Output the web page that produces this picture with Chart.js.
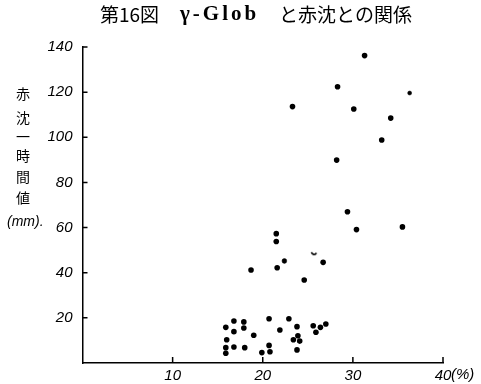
<!DOCTYPE html>
<html>
<head>
<meta charset="utf-8">
<script src="https://cdn.jsdelivr.net/npm/chart.js@4/dist/chart.umd.min.js"></script>
<style>
  html, body { margin: 0; padding: 0; background: #fff; }
  #wrap { width: 481px; height: 384px; }
</style>
</head>
<body>
<div id="wrap"><canvas id="c" width="481" height="384"></canvas></div>
<script>
// γ-グロブリン (%) と赤沈一時間値 (mm)
const gammaGlob = [
  23.3, 31.3, 28.3, 30.1, 34.2, 33.2, 28.2, 29.4, 30.4, 35.5,
  21.5, 21.5, 26.7, 18.7, 21.6, 24.6,
  15.9, 16.8, 17.9, 16.8, 17.9, 19.0, 16.0, 15.9, 15.9, 16.8,
  18.0, 19.9, 20.7, 21.9, 22.9, 23.8, 20.7, 20.8, 23.4, 23.9,
  24.1, 23.8, 25.6, 25.9, 26.4, 27.0
];
const esr1h = [
  113.6, 136.2, 122.4, 112.5, 108.5, 98.8, 89.9, 67.0, 59.1, 60.3,
  57.3, 53.8, 44.6, 41.2, 42.2, 36.8,
  15.8, 18.6, 18.2, 13.9, 15.5, 12.3, 10.3, 6.8, 4.3, 7.1,
  6.8, 4.6, 19.6, 14.6, 19.6, 16.1, 7.8, 5.0, 10.3, 12.1,
  9.7, 5.8, 16.5, 13.6, 15.8, 17.3
];
// smaller / partly printed marks
const smallGlob = [36.3];
const smallEsr  = [119.6];
const halfGlob = [22.4];
const halfEsr  = [45.2];
const arcGlob = [25.7];
const arcEsr  = [48.6];

const xTicks = [10, 20, 30, 40];
const yTicks = [20, 40, 60, 80, 100, 120, 140];
const yTitleChars = ['赤', '沈', '一', '時', '間', '値'];

const toPoints = (xs, ys) => xs.map((x, i) => ({ x, y: ys[i] }));

// small crescent used for the broken mark
const arcImg = document.createElement('canvas');
arcImg.width = 8; arcImg.height = 8;
(function () {
  const g = arcImg.getContext('2d');
  g.strokeStyle = '#000';
  g.lineWidth = 1.6;
  g.beginPath();
  g.arc(4, 2.5, 2.6, 0.15 * Math.PI, 0.95 * Math.PI);
  g.stroke();
})();

const TICK_FONT = 'italic 15px "Liberation Sans", "DejaVu Sans", sans-serif';

const decor = {
  id: 'decor',
  afterDraw(chart) {
    const { ctx, chartArea, scales } = chart;
    const xs = scales.x, ys = scales.y;
    ctx.save();
    ctx.strokeStyle = '#000';
    ctx.lineWidth = 1.5;
    // inward tick marks
    ctx.beginPath();
    yTicks.forEach(v => {
      const py = ys.getPixelForValue(v);
      ctx.moveTo(chartArea.left, py);
      ctx.lineTo(chartArea.left + 5, py);
    });
    xTicks.forEach(v => {
      const px = xs.getPixelForValue(v);
      ctx.moveTo(px, chartArea.bottom);
      ctx.lineTo(px, chartArea.bottom - 6);
    });
    ctx.stroke();

    // unit after the last x label
    ctx.fillStyle = '#000';
    ctx.font = TICK_FONT;
    ctx.textBaseline = 'top';
    ctx.textAlign = 'left';
    ctx.fillText('(%)', xs.getPixelForValue(40) + 8, chartArea.bottom + 4);

    // vertical y-axis title
    ctx.font = '14px "Noto Sans CJK JP", sans-serif';
    ctx.textAlign = 'center';
    ctx.textBaseline = 'middle';
    const cy = [94, 118, 137, 156, 177, 198];
    yTitleChars.forEach((ch, i) => ctx.fillText(ch, 23, cy[i]));
    ctx.font = 'italic 14px "Liberation Sans", sans-serif';
    ctx.textAlign = 'left';
    ctx.fillText('(mm).', 7, 222);

    // title
    ctx.textBaseline = 'middle';
    ctx.font = '19px "Noto Sans CJK JP", sans-serif';
    ctx.fillText('第16図', 100, 15);
    ctx.font = 'bold 21px "Liberation Serif", serif';
    if ('letterSpacing' in ctx) ctx.letterSpacing = '3px';
    ctx.fillText('γ-Glob', 180, 15);
    if ('letterSpacing' in ctx) ctx.letterSpacing = '0px';
    ctx.font = '19px "Noto Sans CJK JP", sans-serif';
    ctx.fillText('と赤沈との関係', 279, 15);
    ctx.restore();
  }
};

new Chart(document.getElementById('c'), {
  type: 'scatter',
  data: {
    datasets: [
      {
        data: toPoints(gammaGlob, esr1h),
        backgroundColor: '#000',
        borderWidth: 0,
        pointRadius: 2.8
      },
      {
        data: toPoints(smallGlob, smallEsr),
        backgroundColor: '#000',
        borderColor: '#000',
        borderWidth: 0.5,
        pointRadius: 2.0
      },
      {
        data: toPoints(halfGlob, halfEsr),
        backgroundColor: '#000',
        borderColor: '#000',
        borderWidth: 0.5,
        pointRadius: 2.4
      },
      {
        data: toPoints(arcGlob, arcEsr),
        pointStyle: arcImg,
        pointRadius: 4
      }
    ]
  },
  options: {
    responsive: false,
    animation: false,
    events: [],
    layout: { padding: { top: 47, right: 38, left: 0, bottom: 0 } },
    plugins: {
      legend: { display: false },
      title: { display: false },
      tooltip: { enabled: false }
    },
    scales: {
      x: {
        type: 'linear',
        min: 0, max: 40,
        afterFit(s) { s.height = 21; },
        afterBuildTicks(s) { s.ticks = [0, ...xTicks].map(v => ({ value: v })); },
        grid: { display: false, drawTicks: false },
        border: { display: true, color: '#000', width: 1.5 },
        ticks: {
          color: '#000',
          padding: 4,
          maxRotation: 0,
          font: { family: '"Liberation Sans", "DejaVu Sans", sans-serif', size: 15, style: 'italic' },
          callback: v => (v === 0 ? '' : String(v))
        }
      },
      y: {
        type: 'linear',
        min: 0, max: 140,
        afterFit(s) { s.width = 82.5; },
        afterBuildTicks(s) { s.ticks = [0, ...yTicks].map(v => ({ value: v })); },
        grid: { display: false, drawTicks: false },
        border: { display: true, color: '#000', width: 1.5 },
        ticks: {
          color: '#000',
          padding: 10,
          font: { family: '"Liberation Sans", "DejaVu Sans", sans-serif', size: 15, style: 'italic' },
          callback: v => (v === 0 ? '' : String(v))
        }
      }
    }
  },
  plugins: [decor]
});
</script>
</body>
</html>
